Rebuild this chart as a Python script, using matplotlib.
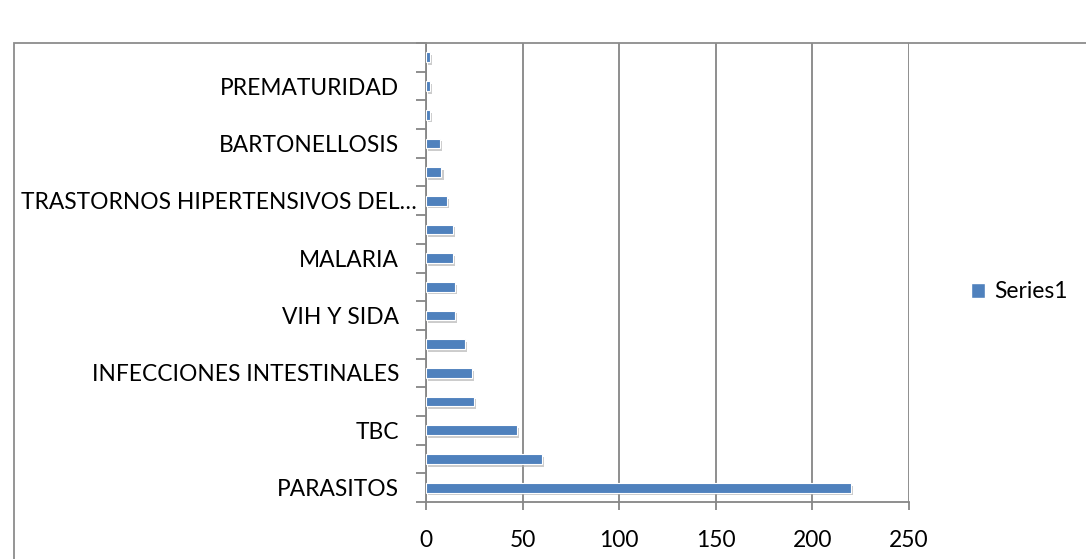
import matplotlib
matplotlib.use("Agg")
import matplotlib.pyplot as plt
from matplotlib.patches import Rectangle, Patch
import matplotlib.patheffects as pe
import matplotlib.transforms as mtransforms
import numpy as np

# Data (bottom to top)
labels = ["PARASITOS", "", "TBC", "", "INFECCIONES INTESTINALES", "",
          "VIH Y SIDA", "", "MALARIA", "", "TRASTORNOS HIPERTENSIVOS DEL…", "",
          "BARTONELLOSIS", "", "PREMATURIDAD", ""]
values = [220, 60, 47, 25, 24, 20, 15, 15, 14, 14, 11, 8, 7, 2, 2, 2]
series_name = "Series1"
xticks = [0, 50, 100, 150, 200, 250]

W, H = 1086, 559
fig = plt.figure(figsize=(W / 100, H / 100), dpi=100)
plt.rcParams['font.family'] = ['Lato', 'DejaVu Sans']
FS = 16.4

grid_c = "#868686"
bar_c = "#4F81BD"

# chart border (left & top visible)
fig.patches.append(Rectangle((14 / W, -0.1), 1.2, (H - 43) / H + 0.1,
                             transform=fig.transFigure, fill=False,
                             edgecolor="#8c8c8c", linewidth=1.3))

ax = fig.add_axes([426 / W, 57 / H, (909 - 426) / W, (502 - 43) / H])
y = np.arange(len(values))
bars = ax.barh(y, values, height=0.34, color=bar_c, edgecolor="white",
               linewidth=0.8, zorder=3)
for b in bars:
    b.set_path_effects([pe.SimplePatchShadow(offset=(1.5, -2), shadow_rgbFace="#aaaaaa", alpha=0.6),
                        pe.Normal()])

ax.set_xlim(0, 250)
ax.set_ylim(-0.5, len(values) - 0.5)
ax.set_xticks(xticks)
ax.set_xticklabels([str(t) for t in xticks], fontsize=FS, color="#000000")
ax.tick_params(axis="x", length=6, width=1.3, color=grid_c, pad=14)

ax.set_yticks(np.arange(-0.5, len(values), 1.0))
ax.set_yticklabels([])
ax.tick_params(axis="y", which="major", length=7, width=1.3, color=grid_c)
ax.set_yticks(y, minor=True)
ax.set_yticklabels(labels, minor=True, fontsize=FS, color="#000000")
ax.tick_params(axis="y", which="minor", length=0, pad=19.5)
for t in ax.get_yticklabels(minor=True):
    if t.get_text().endswith("…"):
        t.set_transform(t.get_transform() +
                        mtransforms.ScaledTranslation(18 / 100, 0, fig.dpi_scale_trans))

ax.grid(axis="x", color=grid_c, linewidth=1.3, zorder=0)
ax.set_axisbelow(True)
for s in ["top", "right"]:
    ax.spines[s].set_visible(False)
for s in ["left", "bottom"]:
    ax.spines[s].set_color(grid_c)
    ax.spines[s].set_linewidth(1.3)

fig.legend(handles=[Patch(facecolor=bar_c, edgecolor="white")], labels=[series_name],
           loc="center left", bbox_to_anchor=(971 / W, 1 - 292 / H), frameon=False,
           fontsize=FS, handlelength=0.6, handleheight=0.6, handletextpad=0.4,
           borderaxespad=0, borderpad=0)

fig.savefig("out.png", dpi=100)
